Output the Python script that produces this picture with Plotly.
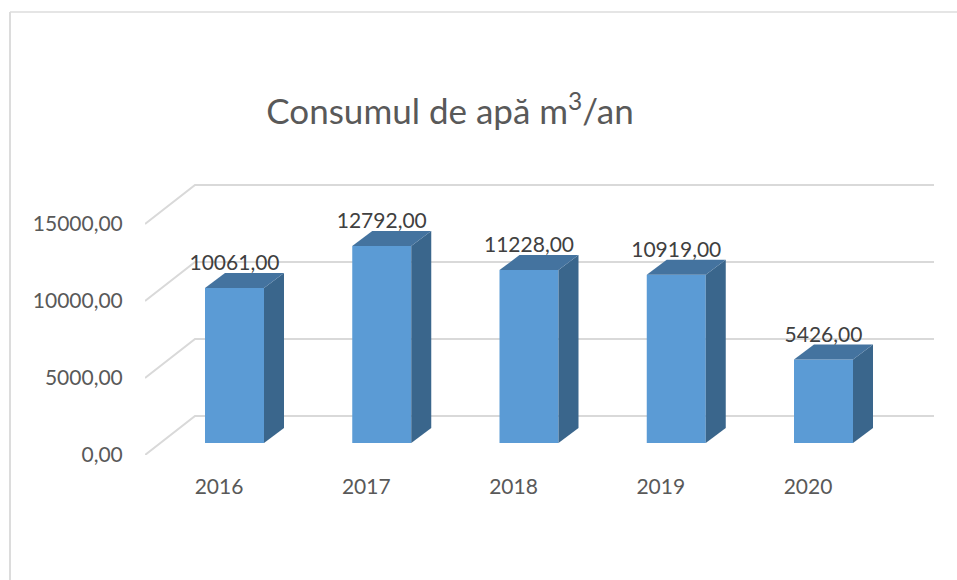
import plotly.graph_objects as go

years = [2016, 2017, 2018, 2019, 2020]
consum = [10061, 12792, 11228, 10919, 5426]
y_ticks = [0, 5000, 10000, 15000]

W, H = 957, 580
L, R, T, B = 145, 934, 150, 455
PX_X = 147.25          # px per year
PX_Y = 231 / 15000     # px per unit
cat0 = 219
xr = [2016 + (L - cat0) / PX_X, 2016 + (R - cat0) / PX_X]
yr = [0, (B - T) / PX_Y]
yr2 = [-12 / PX_Y, (B - 12 - T) / PX_Y]

bar_shift = 15.5 / PX_X
bar_w = 59 / PX_X
dx_bar, dy_bar = 20 / PX_X, 15 / PX_Y
dx_grid, dy_grid = 50 / PX_X, 39 / PX_Y
label_off = 23 / PX_Y

FONT = "Lato"
fig = go.Figure()

for v in y_ticks:
    fig.add_trace(go.Scatter(
        x=[xr[0], xr[0] + dx_grid, xr[1]], y=[v, v + dy_grid, v + dy_grid],
        mode="lines", line=dict(color="#D9D9D9", width=2), hoverinfo="skip",
        showlegend=False, cliponaxis=False))

fig.add_trace(go.Bar(
    x=[y + bar_shift for y in years], y=consum, width=bar_w, yaxis="y2",
    marker=dict(color="#5B9BD5", line=dict(width=0)), showlegend=False))

for y, v in zip(years, consum):
    xl = y + bar_shift - bar_w / 2
    xr_ = y + bar_shift + bar_w / 2
    fig.add_trace(go.Scatter(
        x=[xr_, xr_, xr_ + dx_bar, xr_ + dx_bar, xr_],
        y=[0, v, v + dy_bar, dy_bar, 0], yaxis="y2", mode="lines",
        fill="toself", fillcolor="#3A668C", line=dict(width=0),
        hoverinfo="skip", showlegend=False))
    fig.add_trace(go.Scatter(
        x=[xl, xr_, xr_ + dx_bar, xl + dx_bar, xl],
        y=[v, v, v + dy_bar, v + dy_bar, v], yaxis="y2", mode="lines",
        fill="toself", fillcolor="#44739F", line=dict(width=0),
        hoverinfo="skip", showlegend=False))

fig.add_trace(go.Scatter(
    x=[y + bar_shift for y in years], y=[v + label_off for v in consum],
    yaxis="y2", mode="text", text=[f"{v},00" for v in consum],
    textposition="middle center",
    textfont=dict(family=FONT, size=21, color="#404040"),
    hoverinfo="skip", showlegend=False, cliponaxis=False))

frame_x = (10 - L) / (R - L)
frame_y = (B - 12) / (B - T)
fig.update_layout(
    width=W, height=H, autosize=False,
    paper_bgcolor="white", plot_bgcolor="white",
    margin=dict(l=L, r=W - R, t=T, b=H - B),
    title=dict(text="Consumul de apă m<sup>3</sup>/an", x=450 / W, xanchor="center",
               y=1 - 112 / H, yanchor="middle",
               font=dict(family=FONT, size=35, color="#595959")),
    xaxis=dict(range=xr, tickvals=years, ticktext=[str(y) for y in years],
               showgrid=False, zeroline=False, showline=False,
               ticks="outside", ticklen=13, tickcolor="rgba(0,0,0,0)",
               tickfont=dict(family=FONT, size=21, color="#595959")),
    yaxis=dict(range=yr, tickvals=y_ticks, ticktext=[f"{v},00" for v in y_ticks],
               showgrid=False, zeroline=False, showline=False,
               ticks="outside", ticklen=17, tickcolor="rgba(0,0,0,0)",
               tickfont=dict(family=FONT, size=21, color="#595959")),
    yaxis2=dict(range=yr2, overlaying="y", visible=False),
    shapes=[
        dict(type="line", xref="paper", yref="paper", x0=frame_x, x1=frame_x,
             y0=(B - H) / (B - T), y1=frame_y, line=dict(color="#DCDCDC", width=2)),
        dict(type="line", xref="paper", yref="paper", x0=frame_x, x1=(W - L) / (R - L),
             y0=frame_y, y1=frame_y, line=dict(color="#DCDCDC", width=1.5)),
    ],
)
fig.write_html("out.html", config={"displayModeBar": False},
               post_script="document.body.style.margin='0';document.documentElement.style.overflow='hidden';")
